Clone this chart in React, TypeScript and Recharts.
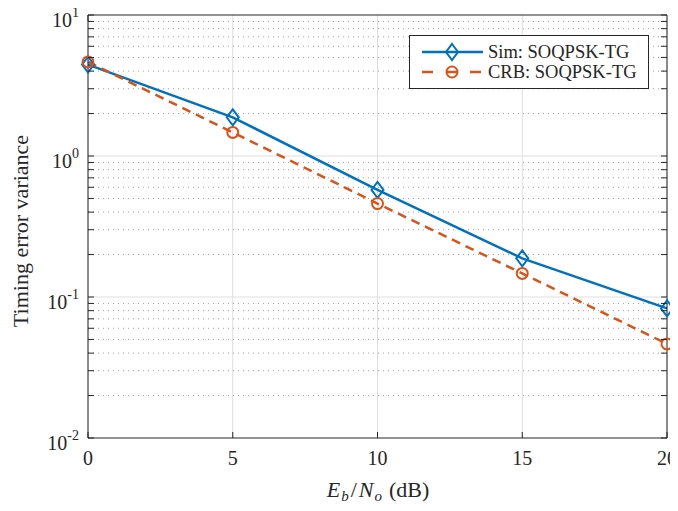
import React from 'react'
import { CartesianGrid, Line, LineChart, ReferenceLine, XAxis, YAxis } from 'recharts'

const snr = [0, 5, 10, 15, 20]
const simVar = [4.45, 1.88, 0.575, 0.188, 0.083]
const crbVar = [4.65, 1.47, 0.46, 0.147, 0.0465]

const xTicks = [0, 5, 10, 15, 20]
const yMajor = [0.01, 0.1, 1, 10]
const yMinor: number[] = []
;[0.01, 0.1, 1].forEach((d) => {
  for (let m = 2; m <= 9; m++) yMinor.push(+(m * d).toPrecision(3))
})
const yTicks = [...yMajor, ...yMinor].sort((a, b) => a - b)

const BLUE = '#0072BD'
const ORANGE = '#D95319'
const INK = '#262626'
const FONT = '"Liberation Serif", "Times New Roman", serif'

const data = snr.map((x, i) => ({ snr: x, sim: simVar[i], crb: crbVar[i] }))

const isMajor = (v: number) => Math.abs(Math.log10(v) - Math.round(Math.log10(v))) < 1e-6

const YTickLeft = ({ x, y, payload }: any) => {
  const v = payload.value
  const major = isMajor(v)
  return (
    <g>
      <line x1={x} x2={x + 6} y1={y} y2={y} stroke={INK} />
      {major && (
        <text x={x - 9} y={y + 12} textAnchor="end" fontSize={20} fill={INK} fontFamily={FONT}>
          10
          <tspan dy={-10} fontSize={14}>
            {Math.round(Math.log10(v))}
          </tspan>
        </text>
      )}
    </g>
  )
}

const YTickRight = ({ x, y }: any) => <line x1={x} x2={x - 6} y1={y} y2={y} stroke={INK} />

const XTickBottom = ({ x, y, payload }: any) => (
  <g>
    <line x1={x} x2={x} y1={y} y2={y - 6} stroke={INK} />
    <text x={x} y={y + 27} textAnchor="middle" fontSize={20} fill={INK} fontFamily={FONT}>
      {payload.value}
    </text>
  </g>
)

const XTickTop = ({ x, y }: any) => <line x1={x} x2={x} y1={y} y2={y + 6} stroke={INK} />

const Diamond = ({ cx, cy }: any) => (
  <path
    d={`M${cx},${cy - 8} L${cx + 6},${cy} L${cx},${cy + 8} L${cx - 6},${cy} Z`}
    fill="none"
    stroke={BLUE}
    strokeWidth={2}
  />
)

const Ring = ({ cx, cy }: any) => (
  <circle cx={cx} cy={cy} r={5.5} fill="none" stroke={ORANGE} strokeWidth={2} />
)

export default function App() {
  return (
    <div
      style={{
        position: 'relative',
        width: 678,
        height: 511,
        margin: -8,
        background: '#fff',
      }}
    >
      <LineChart width={678} height={511} data={data} margin={{ top: 14, right: 10, bottom: 0, left: 8 }}>
        <CartesianGrid horizontal={false} stroke="#dedede" />
        {yMinor.map((v) => (
          <ReferenceLine key={v} y={v} stroke="#a0a0a0" strokeDasharray="1 4" />
        ))}
        <ReferenceLine y={1} stroke="#dedede" />
        <ReferenceLine y={0.1} stroke="#dedede" />
        <XAxis
          dataKey="snr"
          type="number"
          domain={[0, 20]}
          ticks={xTicks}
          interval={0}
          height={73}
          tickSize={0}
          tickMargin={0}
          tickLine={false}
          axisLine={{ stroke: INK }}
          tick={(p: any) => <XTickBottom {...p} />}
        />
        <XAxis
          xAxisId="top"
          orientation="top"
          type="number"
          domain={[0, 20]}
          ticks={xTicks}
          interval={0}
          height={1}
          tickSize={0}
          tickMargin={0}
          tickLine={false}
          axisLine={{ stroke: INK }}
          tick={(p: any) => <XTickTop {...p} />}
          allowDataOverflow
        />
        <YAxis
          scale="log"
          type="number"
          domain={[0.01, 10]}
          ticks={yTicks}
          interval={0}
          allowDataOverflow
          width={80}
          tickSize={0}
          tickMargin={0}
          tickLine={false}
          axisLine={{ stroke: INK }}
          tick={(p: any) => <YTickLeft {...p} />}
        />
        <YAxis
          yAxisId="right"
          orientation="right"
          scale="log"
          type="number"
          domain={[0.01, 10]}
          ticks={yTicks}
          interval={0}
          allowDataOverflow
          width={1}
          tickSize={0}
          tickMargin={0}
          tickLine={false}
          axisLine={{ stroke: INK }}
          tick={(p: any) => <YTickRight {...p} />}
        />
        <Line
          dataKey="sim"
          stroke={BLUE}
          strokeWidth={2.5}
          dot={(p: any) => <Diamond {...p} key={`d-${p.index}`} />}
          isAnimationActive={false}
        />
        <Line
          dataKey="crb"
          stroke={ORANGE}
          strokeWidth={2.5}
          strokeDasharray="9 6"
          dot={(p: any) => <Ring {...p} key={`c-${p.index}`} />}
          isAnimationActive={false}
        />
      </LineChart>
      <svg
        width={678}
        height={511}
        style={{ position: 'absolute', left: 0, top: 0, pointerEvents: 'none' }}
        fontFamily={FONT}
      >
        <text transform="translate(28,231) rotate(-90)" textAnchor="middle" fontSize={22} fill={INK}>
          Timing error variance
        </text>
        <text x={378} y={497} textAnchor="middle" fontSize={22} fill={INK}>
          <tspan fontStyle="italic">E</tspan>
          <tspan fontStyle="italic" fontSize={15} dx={1} dy={4}>
            b
          </tspan>
          <tspan dx={2} dy={-4}>
            /
          </tspan>
          <tspan fontStyle="italic" dx={2}>
            N
          </tspan>
          <tspan fontStyle="italic" fontSize={15} dx={1} dy={4}>
            o
          </tspan>
          <tspan dx={7} dy={-4}>
            (dB)
          </tspan>
        </text>
        <g>
          <rect x={409.5} y={35.5} width={239} height={53} fill="#fff" stroke={INK} />
          <line x1={422} x2={483} y1={52} y2={52} stroke={BLUE} strokeWidth={2.5} />
          <path d="M452,44 L458,52 L452,60 L446,52 Z" fill="none" stroke={BLUE} strokeWidth={2} />
          <text x={488} y={58} fontSize={18.5} fill={INK}>
            Sim: SOQPSK-TG
          </text>
          <line x1={422} x2={483} y1={72} y2={72} stroke={ORANGE} strokeWidth={2.5} strokeDasharray="11 13" />
          <circle cx={452} cy={72} r={5.5} fill="none" stroke={ORANGE} strokeWidth={2} />
          <text x={488} y={78} fontSize={18.5} fill={INK}>
            CRB: SOQPSK-TG
          </text>
        </g>
      </svg>
    </div>
  )
}
